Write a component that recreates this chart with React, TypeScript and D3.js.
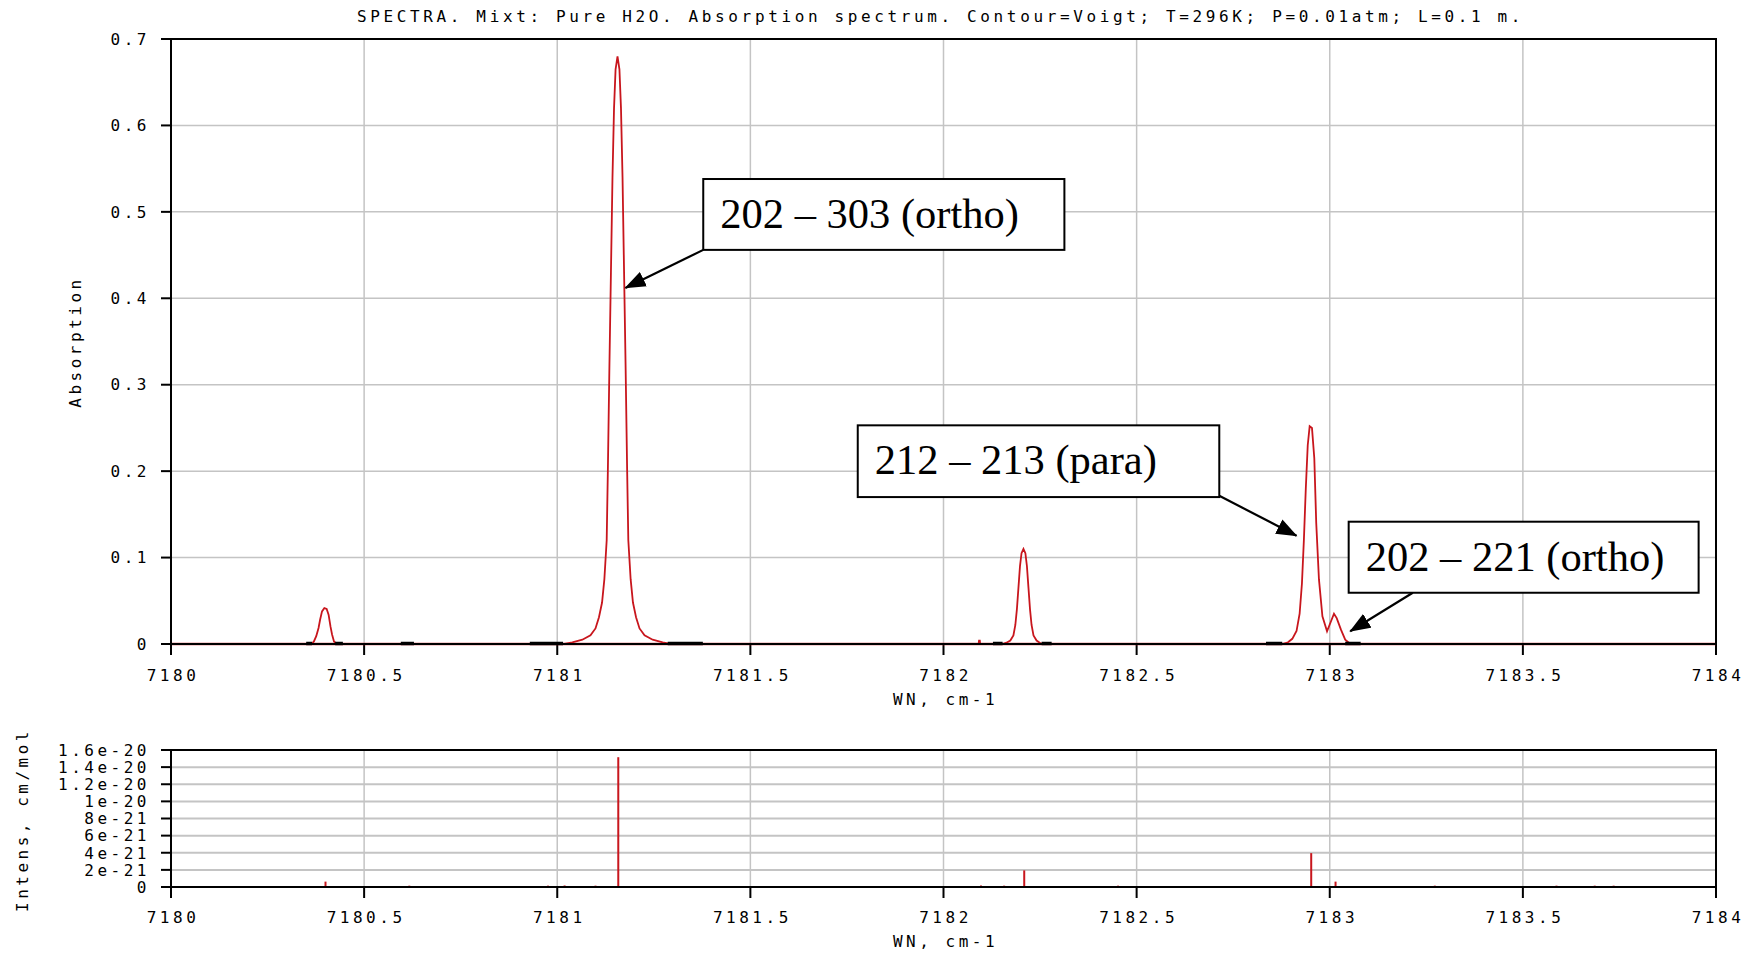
import React from 'react';
import * as d3 from 'd3';

// wavenumber axis, cm-1
const wnTicks = [7180, 7180.5, 7181, 7181.5, 7182, 7182.5, 7183, 7183.5, 7184];
const wnTickLabels = ['7180', '7180.5', '7181', '7181.5', '7182', '7182.5', '7183', '7183.5', '7184'];

// absorption axis
const absTicks = [0, 0.1, 0.2, 0.3, 0.4, 0.5, 0.6, 0.7];
const absTickLabels = ['0', '0.1', '0.2', '0.3', '0.4', '0.5', '0.6', '0.7'];

// line intensity axis
const intTicks = [0, 2e-21, 4e-21, 6e-21, 8e-21, 1e-20, 1.2e-20, 1.4e-20, 1.6e-20];
const intTickLabels = ['0', '2e-21', '4e-21', '6e-21', '8e-21', '1e-20', '1.2e-20', '1.4e-20', '1.6e-20'];

// absorption spectrum: [wn, absorption]
const peak7180_40: [number, number][] = [
  [7180.364, 0], [7180.370, 0.003], [7180.376, 0.009], [7180.382, 0.0185], [7180.386, 0.028],
  [7180.391, 0.0377], [7180.397, 0.0416], [7180.403, 0.0405], [7180.408, 0.034], [7180.413, 0.020],
  [7180.417, 0.011], [7180.422, 0.003], [7180.429, 0],
];
const peak7181_16: [number, number][] = [
  [7181.019, 0], [7181.039, 0.002], [7181.065, 0.005], [7181.086, 0.010], [7181.099, 0.018],
  [7181.108, 0.031], [7181.116, 0.048], [7181.122, 0.075], [7181.128, 0.12], [7181.131, 0.20],
  [7181.135, 0.32], [7181.139, 0.43], [7181.143, 0.54], [7181.147, 0.62], [7181.151, 0.665],
  [7181.156, 0.68], [7181.161, 0.665], [7181.165, 0.62], [7181.169, 0.54], [7181.173, 0.43],
  [7181.177, 0.32], [7181.181, 0.20], [7181.184, 0.12], [7181.190, 0.075], [7181.196, 0.048],
  [7181.204, 0.031], [7181.213, 0.018], [7181.226, 0.010], [7181.247, 0.005], [7181.273, 0.002],
  [7181.293, 0],
];
const weak7182_09: [number, number][] = [
  [7182.091, 0], [7182.092, 0.004], [7182.094, 0.004], [7182.095, 0],
];
const peak7182_21: [number, number][] = [
  [7182.153, 0], [7182.163, 0.0015], [7182.173, 0.004], [7182.181, 0.010], [7182.186, 0.022],
  [7182.190, 0.040], [7182.194, 0.065], [7182.198, 0.090], [7182.202, 0.105], [7182.207, 0.110],
  [7182.212, 0.105], [7182.216, 0.090], [7182.220, 0.065], [7182.224, 0.040], [7182.228, 0.022],
  [7182.233, 0.010], [7182.241, 0.004], [7182.249, 0.0015], [7182.255, 0],
];
const peaks7182_95: [number, number][] = [
  [7182.877, 0], [7182.892, 0.002], [7182.903, 0.006], [7182.914, 0.015], [7182.922, 0.035],
  [7182.928, 0.070], [7182.933, 0.120], [7182.938, 0.180], [7182.943, 0.230], [7182.948, 0.252],
  [7182.954, 0.250], [7182.960, 0.215], [7182.965, 0.140], [7182.972, 0.075], [7182.981, 0.032],
  [7182.993, 0.0147], [7183.003, 0.026], [7183.011, 0.035], [7183.018, 0.030], [7183.029, 0.0166],
  [7183.040, 0.005], [7183.051, 0.001], [7183.058, 0],
];
const spectrum: [number, number][] = [
  [7180, 0], ...peak7180_40, ...peak7181_16, ...weak7182_09, ...peak7182_21, ...peaks7182_95, [7184, 0],
];

// line list (stick spectrum)
const lineWn = [7180.400, 7180.617, 7180.976, 7181.019, 7181.099, 7181.158, 7182.097, 7182.157,
  7182.209, 7182.452, 7182.952, 7183.015, 7183.272, 7183.587, 7183.686, 7183.735];
const lineIntens = [5.7e-22, 1e-22, 1e-22, 1.2e-22, 1e-22, 1.51e-20, 1.2e-22, 1e-22,
  1.88e-21, 1e-22, 3.9e-21, 5.7e-22, 1e-22, 1e-22, 1e-22, 1e-22];

// dark marks on the zero line: calculation ranges and their ends
const calcRanges = [[7180.350, 7180.445], [7180.929, 7181.377], [7182.128, 7182.280], [7182.835, 7183.080]];
const calcEnds = [[7180.350, 7180.365], [7180.425, 7180.445], [7180.595, 7180.629], [7180.929, 7181.015],
  [7181.286, 7181.377], [7182.128, 7182.153], [7182.254, 7182.280], [7182.835, 7182.877], [7183.040, 7183.080]];

const noteLabels = ['202 – 303 (ortho)', '212 – 213 (para)', '202 – 221 (ortho)'];

const W = 1751;
const H = 954;
const L = 171;
const R = 1716;
const mono = "'DejaVu Sans Mono', 'Liberation Mono', monospace";
const red = '#c8161d';
const grid = '#c4c4c4';

function MonoText(props: any) {
  return <text fontFamily={mono} fontSize={16} letterSpacing={3.5} fill="#000" {...props} />;
}

export default function App() {
  const x = d3.scaleLinear().domain([7180, 7184]).range([L, R]);
  const yA = d3.scaleLinear().domain([0, 0.7]).range([644, 39]);
  const yI = d3.scaleLinear().domain([0, 1.6e-20]).range([887, 750]);

  const line = d3.line<[number, number]>().x(d => x(d[0])).y(d => yA(d[1]));

  // annotation boxes in data units: [wn0, wn1, top, bottom], arrow start and tip
  const notes = [
    { box: [7181.378, 7182.313, 0.538, 0.456], from: [7181.378, 0.456], tip: [7181.1765, 0.412] },
    { box: [7181.778, 7182.714, 0.253, 0.170], from: [7182.714, 0.1715], tip: [7182.914, 0.1253] },
    { box: [7183.049, 7183.955, 0.1415, 0.0593], from: [7183.215, 0.0593], tip: [7183.053, 0.0148] },
  ];

  const xAxis = (y0: number, y1: number, labelY: number, key: string) => (
    <g key={key}>
      {wnTicks.map((t, i) => (
        <g key={t}>
          {i > 0 && i < wnTicks.length - 1 && (
            <line x1={x(t)} x2={x(t)} y1={y1} y2={y0} stroke={grid} strokeWidth={1.5} />
          )}
          <line x1={x(t)} x2={x(t)} y1={y0} y2={y0 + 11} stroke="#000" strokeWidth={2} />
          <MonoText x={x(t) + 2} y={labelY} textAnchor="middle">{wnTickLabels[i]}</MonoText>
        </g>
      ))}
      <MonoText x={(L + R) / 2 + 2} y={labelY + 24} textAnchor="middle">WN, cm-1</MonoText>
    </g>
  );

  return (
    <svg width={W} height={H} style={{ position: 'absolute', left: 0, top: 0, background: '#fff' }}>
      <defs>
        <marker id="head" markerUnits="userSpaceOnUse" markerWidth={22} markerHeight={16}
          refX={20} refY={8} orient="auto">
          <path d="M0,0 L21,8 L0,16 Z" fill="#000" />
        </marker>
      </defs>

      <MonoText x={357} y={22} textLength={1167} lengthAdjust="spacing">
        SPECTRA. Mixt: Pure H2O. Absorption spectrum. Contour=Voigt; T=296K; P=0.01atm; L=0.1 m.
      </MonoText>

      {/* upper panel: absorption */}
      {absTicks.map((t, i) => (
        <g key={t}>
          {i > 0 && i < absTicks.length - 1 && (
            <line x1={L} x2={R} y1={yA(t)} y2={yA(t)} stroke={grid} strokeWidth={1.5} />
          )}
          <line x1={L - 10} x2={L} y1={yA(t)} y2={yA(t)} stroke="#000" strokeWidth={2} />
          <MonoText x={150} y={yA(t)} dy="0.36em" textAnchor="end">{absTickLabels[i]}</MonoText>
        </g>
      ))}
      {xAxis(yA(0), yA(0.7), 681, 'xa')}
      <line x1={L} x2={R} y1={yA(0)} y2={yA(0)} stroke="#000" strokeWidth={2} />
      <path d={line(spectrum) || ''} fill="none" stroke={red} strokeWidth={1.8} />
      <line x1={L} x2={R} y1={yA(0)} y2={yA(0)} stroke={red} strokeWidth={2.5} strokeOpacity={0.85} />
      {calcRanges.map((r, i) => (
        <line key={'r' + i} x1={x(r[0])} x2={x(r[1])} y1={yA(0)} y2={yA(0)} stroke="#444" strokeWidth={2.2} />
      ))}
      {calcEnds.map((r, i) => (
        <line key={'e' + i} x1={x(r[0])} x2={x(r[1])} y1={yA(0) - 0.5} y2={yA(0) - 0.5} stroke="#000" strokeWidth={3.5} />
      ))}
      <rect x={L} y={yA(0.7)} width={R - L} height={yA(0) - yA(0.7)} fill="none" stroke="#000" strokeWidth={2} />
      <line x1={L} x2={L} y1={yA(0.7)} y2={yA(0) + 11} stroke="#000" strokeWidth={2} />
      <MonoText transform={`translate(75,342) rotate(-90)`} textAnchor="middle" dy="0.36em">Absorption</MonoText>

      {/* annotations */}
      {notes.map((n, i) => {
        const bx = x(n.box[0]);
        const by = yA(n.box[2]);
        return (
          <g key={'n' + i}>
            <line x1={x(n.from[0])} y1={yA(n.from[1])} x2={x(n.tip[0])} y2={yA(n.tip[1])}
              stroke="#000" strokeWidth={2.2} markerEnd="url(#head)" />
            <rect x={bx} y={by} width={x(n.box[1]) - bx} height={yA(n.box[3]) - by}
              fill="#fff" stroke="#000" strokeWidth={2} />
            <text x={bx + 17} y={by + 49} fontFamily="'Liberation Serif', 'Times New Roman', serif"
              fontSize={42.5} fill="#000">{noteLabels[i]}</text>
          </g>
        );
      })}

      {/* lower panel: line intensities */}
      {intTicks.map((t, i) => (
        <g key={'i' + t}>
          {i > 0 && i < intTicks.length - 1 && (
            <line x1={L} x2={R} y1={yI(t)} y2={yI(t)} stroke={grid} strokeWidth={2} />
          )}
          <line x1={L - 10} x2={L} y1={yI(t)} y2={yI(t)} stroke="#000" strokeWidth={2} />
          <MonoText x={150} y={yI(t)} dy="0.36em" textAnchor="end">{intTickLabels[i]}</MonoText>
        </g>
      ))}
      {xAxis(yI(0), yI(1.6e-20), 923, 'xi')}
      {lineWn.map((w, i) => (
        <line key={'s' + i} x1={x(w)} x2={x(w)} y1={yI(0)} y2={yI(lineIntens[i]) - 0.5} stroke={red} strokeWidth={2} />
      ))}
      <rect x={L} y={yI(1.6e-20)} width={R - L} height={yI(0) - yI(1.6e-20)} fill="none" stroke="#000" strokeWidth={2} />
      <line x1={L} x2={L} y1={yI(1.6e-20)} y2={yI(0) + 11} stroke="#000" strokeWidth={2} />
      <MonoText transform={`translate(22,820) rotate(-90)`} textAnchor="middle" dy="0.36em">Intens, cm/mol</MonoText>
    </svg>
  );
}
